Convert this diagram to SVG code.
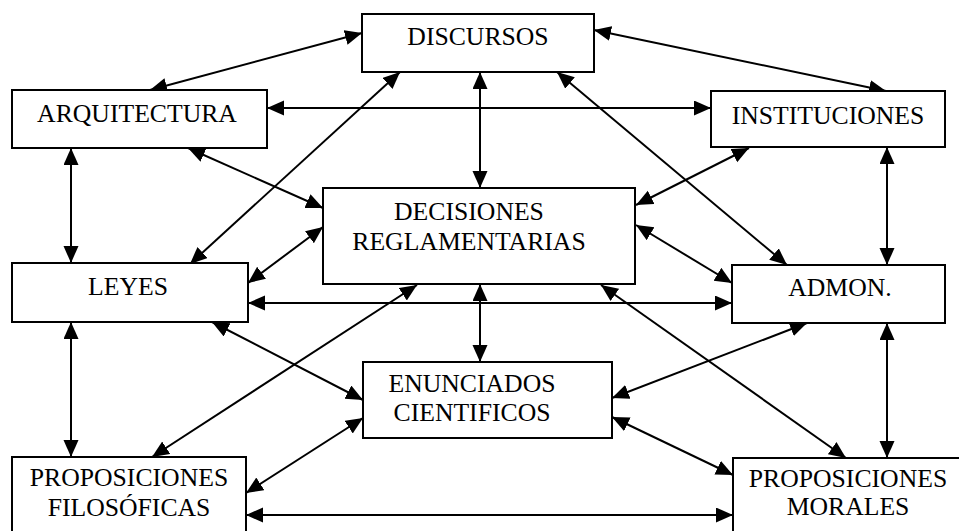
<svg xmlns="http://www.w3.org/2000/svg" width="959" height="531" viewBox="0 0 959 531">
<style>
.box{fill:#fff;stroke:#000;stroke-width:2}
.lbl{font-size:25.7px;fill:#000;text-anchor:middle}
.c{stroke:#000;stroke-width:2;fill:none;marker-start:url(#ah);marker-end:url(#ah)}
</style>
<defs>
<marker id="ah" markerUnits="userSpaceOnUse" markerWidth="18" markerHeight="16" refX="17" refY="7.5" orient="auto-start-reverse" viewBox="0 0 18 16">
<path d="M0,0 L17,7.5 L0,15 z" fill="#000"/>
</marker>
</defs>
<rect width="959" height="531" fill="#fff"/>
<g id="connectors">
<line class="c" x1="362" y1="33" x2="150" y2="90"/>
<line class="c" x1="594" y1="30" x2="886" y2="91"/>
<line class="c" x1="267" y1="108" x2="711" y2="108"/>
<line class="c" x1="480" y1="72" x2="480" y2="188"/>
<line class="c" x1="400" y1="72" x2="190" y2="264"/>
<line class="c" x1="188" y1="148" x2="323" y2="208"/>
<line class="c" x1="323" y1="227" x2="248" y2="283"/>
<line class="c" x1="557" y1="72" x2="787" y2="265"/>
<line class="c" x1="749" y1="148" x2="636" y2="205"/>
<line class="c" x1="887" y1="147" x2="887" y2="265"/>
<line class="c" x1="71" y1="148" x2="71" y2="263"/>
<line class="c" x1="636" y1="225" x2="732" y2="283"/>
<line class="c" x1="248" y1="303" x2="732" y2="303"/>
<line class="c" x1="480" y1="284" x2="480" y2="362"/>
<line class="c" x1="417" y1="285" x2="152" y2="457"/>
<line class="c" x1="212" y1="322" x2="363" y2="400"/>
<line class="c" x1="601" y1="285" x2="846" y2="458"/>
<line class="c" x1="807" y1="323" x2="612" y2="398"/>
<line class="c" x1="71" y1="322" x2="71" y2="457"/>
<line class="c" x1="363" y1="418" x2="246" y2="493"/>
<line class="c" x1="612" y1="417" x2="733" y2="475"/>
<line class="c" x1="887" y1="323" x2="887" y2="458"/>
<line class="c" x1="246" y1="515" x2="733" y2="515"/>
</g>
<g font-family="Liberation Serif, DejaVu Serif, Times New Roman, serif">
<g id="discursos">
<rect class="box" x="362" y="14" width="232" height="58"/>
<text class="lbl" x="478" y="45">DISCURSOS</text>
</g>
<g id="arquitectura">
<rect class="box" x="12" y="90" width="255" height="58"/>
<text class="lbl" x="137" y="122">ARQUITECTURA</text>
</g>
<g id="instituciones">
<rect class="box" x="711" y="91" width="234" height="56"/>
<text class="lbl" x="828" y="124">INSTITUCIONES</text>
</g>
<g id="decisiones">
<rect class="box" x="323" y="188" width="312" height="96"/>
<text class="lbl" x="469" y="220">DECISIONES</text>
<text class="lbl" x="469" y="250">REGLAMENTARIAS</text>
</g>
<g id="leyes">
<rect class="box" x="12" y="263" width="236" height="59"/>
<text class="lbl" x="128" y="295">LEYES</text>
</g>
<g id="admon">
<rect class="box" x="732" y="265" width="213" height="58"/>
<text class="lbl" x="840" y="296">ADMON.</text>
</g>
<g id="enunciados">
<rect class="box" x="363" y="362" width="249" height="76"/>
<text class="lbl" x="472" y="392">ENUNCIADOS</text>
<text class="lbl" x="472" y="421">CIENTIFICOS</text>
</g>
<g id="prop-filosoficas">
<rect class="box" x="12" y="457" width="234" height="84"/>
<text class="lbl" x="129" y="486">PROPOSICIONES</text>
<text class="lbl" x="129" y="516">FILOSÓFICAS</text>
</g>
<g id="prop-morales">
<rect class="box" x="733" y="458" width="235" height="84"/>
<text class="lbl" x="848" y="487">PROPOSICIONES</text>
<text class="lbl" x="848" y="515">MORALES</text>
</g>
</g>
</svg>
